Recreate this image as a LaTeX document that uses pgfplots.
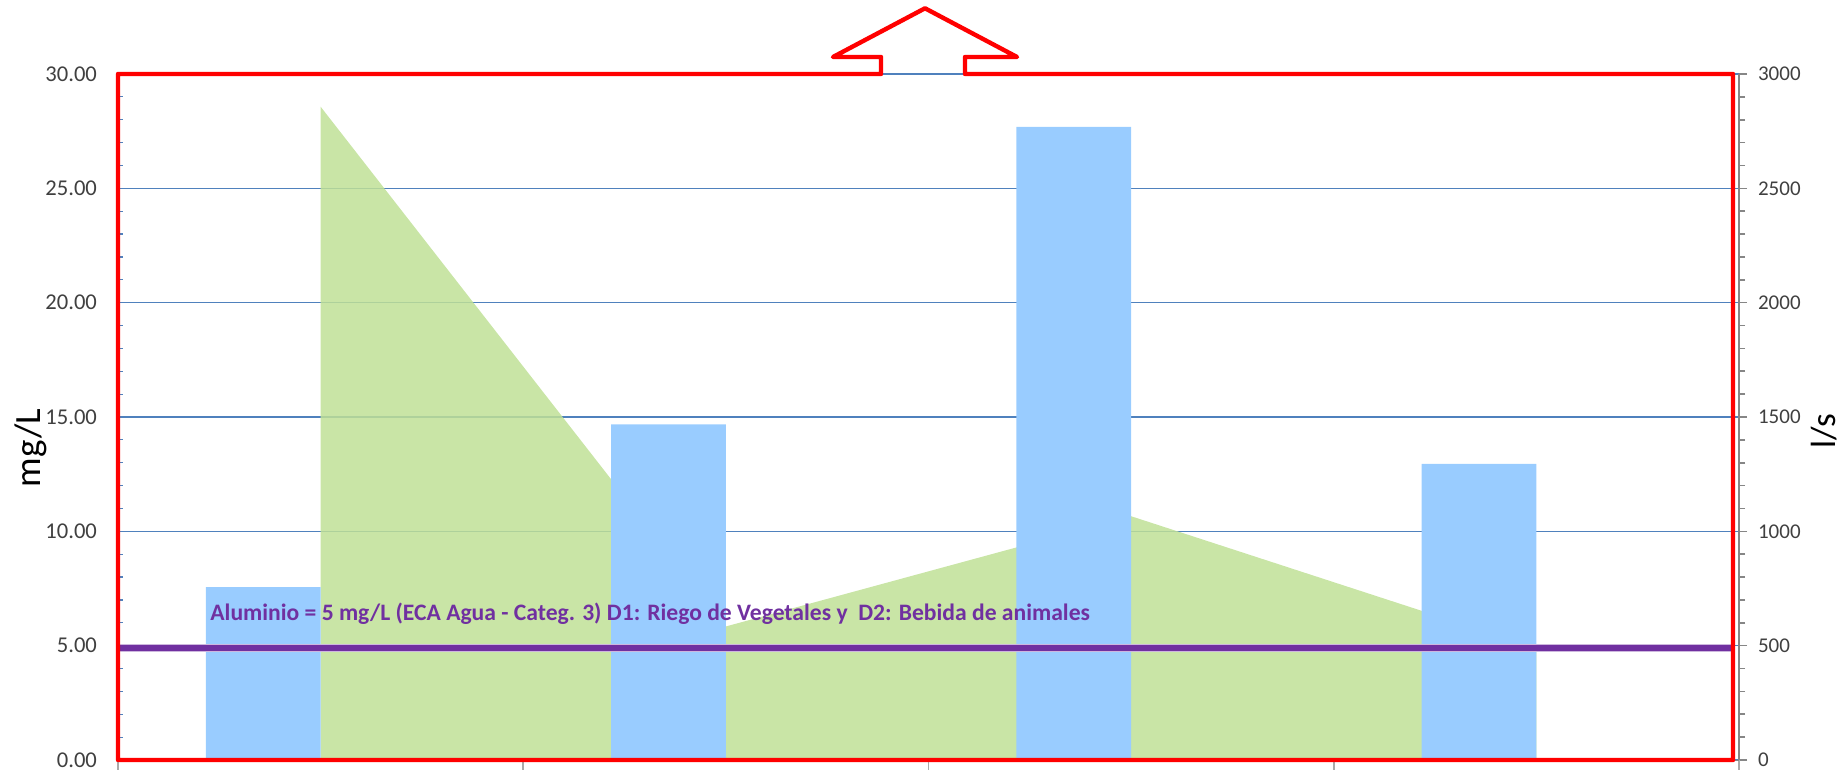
\documentclass[border=0pt]{standalone}
\usepackage{pgfplots}
\pgfplotsset{compat=1.18}
\usepackage{fontspec}
\setmainfont{Carlito}
\definecolor{barblue}{RGB}{153,204,255}
\definecolor{areagreen}{RGB}{191,224,150}
\definecolor{gridblue}{RGB}{79,129,189}
\definecolor{purp}{RGB}{112,48,160}
\definecolor{tickgray}{RGB}{134,134,134}
\definecolor{labgray}{RGB}{64,64,64}
\begin{document}
\begin{tikzpicture}
% right axis: flow (l/s) as area, with the grid
\begin{axis}[
  at={(0,0)}, anchor=south west, scale only axis,
  width=810.5pt, height=343pt,
  xmin=-0.5, xmax=3.5, ymin=0, ymax=3000,
  axis y line*=right, axis x line=none,
  ytick={0,500,...,3000}, minor y tick num=4,
  scaled y ticks=false,
  ymajorgrids, grid style={gridblue, line width=0.8pt},
  y axis line style={tickgray, line width=0.8pt},
  y tick style={tickgray, line width=0.8pt},
  tick align=outside, major tick length=4pt, minor tick length=3pt,
  yticklabel style={font=\fontsize{10.5}{12}\selectfont, text=labgray, xshift=2pt},
  /pgf/number format/assume math mode=true,
  /pgf/number format/1000 sep={},
]
\addplot[fill=areagreen, fill opacity=0.85, draw=none]
  coordinates {(0,2857) (1,584) (2,1066) (3,489)} \closedcycle;
\end{axis}
% left axis: concentration (mg/L) as bars
\begin{axis}[
  at={(0,0)}, anchor=south west, scale only axis,
  width=810.5pt, height=343pt,
  xmin=-0.5, xmax=3.5, ymin=0, ymax=30,
  axis y line*=left, axis x line*=bottom,
  axis line style={tickgray},
  xtick={-0.5,0.5,1.5,2.5,3.5}, xticklabels={},
  x tick style={tickgray!70, line width=0.8pt, /pgfplots/major tick length=5pt},
  xtick align=outside,
  ytick={0,5,...,30}, minor y tick num=4,
  y tick style={gridblue, line width=0.6pt},
  ytick align=inside, major tick length=2pt, minor tick length=2.5pt,
  yticklabel style={font=\fontsize{11.3}{13}\selectfont, text=labgray, xshift=-7pt,
    /pgf/number format/fixed, /pgf/number format/fixed zerofill, /pgf/number format/precision=2},
  /pgf/number format/assume math mode=true,
]
\addplot[ybar, bar width=0.283, bar shift=-0.1415, fill=barblue, draw=none]
  coordinates {(0,7.56) (1,14.68) (2,27.69) (3,12.95)};
\addplot[purp!35, line width=3.8pt] coordinates {(-0.5,4.9) (3.485,4.9)};
\addplot[purp, line width=2.8pt] coordinates {(-0.5,4.9) (3.485,4.9)};
\node[anchor=base west, font=\bfseries\fontsize{11.8}{13}\selectfont, text=purp, inner sep=0pt]
  at (axis cs:-0.273,6.1) {Aluminio = 5 mg/L (ECA Agua - Categ. 3) D1: Riego de Vegetales y\ \ D2: Bebida de animales};
\end{axis}
% red outline with arrow
\draw[red, line width=2.2pt, line join=round]
  (381.5pt,343pt) -- (0pt,343pt) -- (0pt,0pt) -- (807.5pt,0pt) -- (807.5pt,343pt)
  -- (423.5pt,343pt) -- (423.5pt,351.5pt) -- (449.5pt,351.5pt) -- (403.5pt,375.85pt)
  -- (357.5pt,351.5pt) -- (381.5pt,351.5pt) -- cycle;
\node[rotate=90, font=\fontsize{18.5}{20}\selectfont] at (-43.5pt,156pt) {mg/L};
\node[rotate=90, font=\fontsize{17.5}{19}\selectfont] at (853pt,164.5pt) {l/s};
\pgfresetboundingbox
\useasboundingbox (-59pt,-5pt) rectangle (863.5pt,380pt);
\end{tikzpicture}
\end{document}
